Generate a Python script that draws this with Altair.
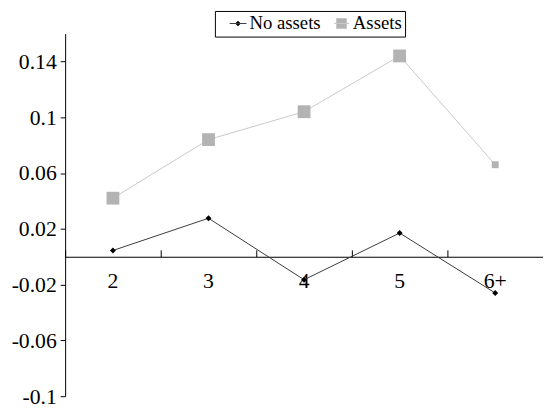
import altair as alt
import pandas as pd

# ---- data ----
groups = ["2", "3", "4", "5", "6+"]
series = ["No assets", "Assets"]
no_assets = [0.0045, 0.0276, -0.0165, 0.017, -0.026]
assets = [0.042, 0.084, 0.104, 0.144, 0.066]
y_ticks = [-0.1, -0.06, -0.02, 0.02, 0.06, 0.1, 0.14]
y_domain = [-0.1, 0.16]

df = pd.DataFrame({
    "group": groups * 2,
    "series": [series[0]] * len(groups) + [series[1]] * len(groups),
    "value": no_assets + assets,
})

FONT = "Liberation Serif"
W, H = 485, 368
zero_from_top = H * y_domain[1] / (y_domain[1] - y_domain[0])

xscale = alt.Scale(type="band", domain=groups, paddingInner=0, paddingOuter=0)
yscale = alt.Scale(domain=y_domain, nice=False, zero=False)

y_axis = alt.Axis(values=y_ticks, labelExpr="'' + datum.value", labelFont=FONT,
                  labelFontSize=22, labelColor="black", labelPadding=4,
                  tickSize=5, tickColor="black", domainColor="black",
                  grid=False, title=None)
y_enc = alt.Y("value:Q", scale=yscale, axis=y_axis, title=None)

main_x_axis = alt.Axis(orient="bottom", offset=-(H - zero_from_top), domain=True,
                       domainColor="black", domainWidth=1.2, ticks=False, tickSize=0,
                       labelAngle=0, labelFont=FONT, labelFontSize=22,
                       labelColor="black", labelPadding=14, grid=False, title=None,
                       bandPosition=0.5)
tick_x_axis = alt.Axis(orient="top", offset=-zero_from_top, domain=False,
                       labels=False, ticks=True, tickSize=7, tickColor="black",
                       bandPosition=0, grid=False, title=None)

base = alt.Chart(df)


def x_enc(axis):
    return alt.X("group:N", scale=xscale, sort=groups, axis=axis, bandPosition=0.5)


line_no = base.transform_filter(alt.datum.series == series[0]).mark_line(
    strokeWidth=1, color="#3a3a3a"
).encode(x=x_enc(main_x_axis), y=y_enc)

line_as = base.transform_filter(alt.datum.series == series[1]).mark_line(
    strokeWidth=1, color="#c8c8c8"
).encode(x=x_enc(None), y=y_enc)

diamonds = base.transform_filter(alt.datum.series == series[0]).mark_point(
    shape="diamond", filled=True, color="black", size=36, opacity=1
).encode(x=x_enc(tick_x_axis), y=y_enc)

squares = base.transform_filter(alt.datum.series == series[1]).mark_square(
    color="#b3b3b3", opacity=1
).encode(
    x=x_enc(None),
    y=y_enc,
    size=alt.condition(alt.datum.group == "6+", alt.value(49), alt.value(169)),
)

legend_props = dict(
    title=None, orient="none", legendX=152, legendY=-23, direction="horizontal",
    strokeColor="black", padding=3, symbolOffset=11, labelOffset=2,
    labelFont=FONT, labelFontSize=19, labelColor="black", symbolSize=289,
    symbolStrokeWidth=1, symbolOpacity=1, columnPadding=0,
    labelExpr="datum.label == 'Assets' ? datum.label + '\u00a0\u00a0' : datum.label",
)
paths = [
    "M-1,0H1M0,-0.3L0.3,0L0,0.3L-0.3,0Z",
    "M-0.9,0H0.9M-0.6,-0.6H0.6V0.6H-0.6Z",
]
legend_layer = base.mark_point(filled=True, opacity=0).encode(
    x=x_enc(None),
    y=y_enc,
    fill=alt.Fill("series:N", scale=alt.Scale(domain=series, range=["#000000", "#b3b3b3"]),
                  legend=alt.Legend(**legend_props)),
    stroke=alt.Stroke("series:N", scale=alt.Scale(domain=series, range=["#3a3a3a", "#c8c8c8"]),
                      legend=alt.Legend(**legend_props)),
    shape=alt.Shape("series:N", scale=alt.Scale(domain=series, range=paths),
                    legend=alt.Legend(**legend_props)),
)

chart = alt.layer(line_no, line_as, diamonds, squares, legend_layer).resolve_axis(
    x="independent"
).properties(
    width=W, height=H,
    autosize=alt.AutoSizeParams(type="none"),
    padding={"left": 58, "top": 23, "right": 0, "bottom": 11},
    background="white",
).configure_view(stroke=None)

chart.save("out.html", embed_options={"renderer": "svg", "actions": False})
